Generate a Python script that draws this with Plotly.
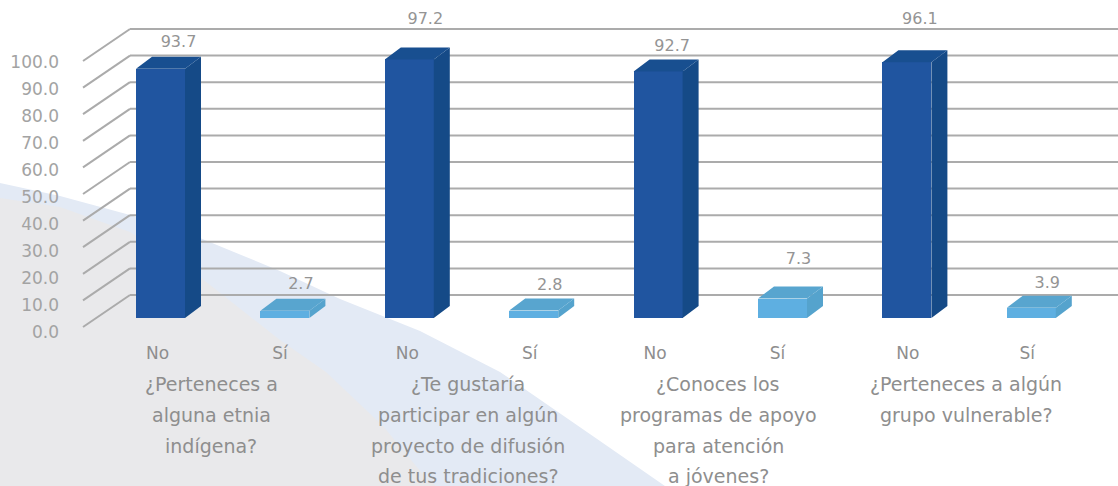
import plotly.graph_objects as go

# ---- data ----
answers = ["No", "Sí", "No", "Sí", "No", "Sí", "No", "Sí"]
values = [93.7, 2.7, 97.2, 2.8, 92.7, 7.3, 96.1, 3.9]
y_ticks = [0, 10, 20, 30, 40, 50, 60, 70, 80, 90, 100]
questions = [
    ["¿Perteneces a", "alguna etnia", "indígena?"],
    ["¿Te gustaría", "participar en algún", "proyecto de difusión", "de tus tradiciones?"],
    ["¿Conoces los", "programas de apoyo", "para atención", "a jóvenes?"],
    ["¿Perteneces a algún", "grupo vulnerable?"],
]

# ---- layout constants (pixels of the 1118x486 page) ----
W, H = 1118, 486
ML = 60
X0_PX, X_STEP = 160.5, 124.4      # centre of first bar, spacing between bars
Y0_PX, Y_UNIT = 327.0, 2.66       # y=0 on the front plane, px per value unit
FONT = "DejaVu Sans, sans-serif"

def ux(px):
    return (px - X0_PX) / X_STEP

def uy(px):
    return (Y0_PX - px) / Y_UNIT

def paper_x(px):
    return (px - ML) / (W - ML)

def paper_y(px):
    return 1 - px / H

x_range = [ux(ML), ux(W)]
y_range = [uy(H), uy(0)]

BAR_W = 49 / X_STEP
BAR_BASE = 9 / Y_UNIT
BAR_DX, BAR_DY = 16 / X_STEP, 12 / Y_UNIT
GRID_X0, GRID_X1 = ux(83), ux(130)
GRID_DY = 32 / Y_UNIT
label_lift_px = [-1, -1, 12, -2, -3, 12, 15, -3]
label_nudge_px = [2, 0, 0, 0, -2, 0, -3, 0]
tick_nudge_px = [-3, -5, -2, -4, -3, -5, 1, -4]
question_centre_px = [211, 468, 718, 966]
question_line_px = [384, 415, 446, 476]

DARK = dict(front="#2055a0", side="#154a87", top="#184f90")
LIGHT = dict(front="#5eafe1", side="#55a3cd", top="#58a5cf")
palette = [DARK if a == "No" else LIGHT for a in answers]
positions = list(range(len(values)))

fig = go.Figure()


def band(points, color):
    d = "M" + " L".join(f"{paper_x(a):.4f},{paper_y(b):.4f}" for a, b in points) + " Z"
    return dict(type="path", xref="paper", yref="paper", path=d, layer="below",
                fillcolor=color, line=dict(width=0))


shapes = [
    band([(0, 183), (60, 196), (130, 215), (200, 238), (280, 271), (340, 299), (420, 331),
          (500, 372), (600, 441), (665, 486), (0, 486)], "#e3eaf5"),
    band([(0, 198), (60, 207), (130, 232), (200, 277), (280, 340), (326, 372), (383, 426),
          (421, 472), (436, 486), (0, 486)], "#e9e9eb"),
]

for t in y_ticks:
    grid_line = dict(color="#ababab", width=2)
    shapes.append(dict(type="line", xref="x", yref="y", layer="below", x0=GRID_X0, y0=t,
                       x1=GRID_X1, y1=t + GRID_DY, line=grid_line))
    shapes.append(dict(type="line", xref="x", yref="y", layer="below", x0=GRID_X1, y0=t + GRID_DY,
                       x1=x_range[1], y1=t + GRID_DY, line=grid_line))

fig.add_trace(go.Bar(
    x=positions, y=values, base=[BAR_BASE] * len(values), width=BAR_W,
    marker=dict(color=[p["front"] for p in palette], line=dict(width=0)),
    showlegend=False, hoverinfo="skip",
))

for tone in (DARK, LIGHT):
    for face in ("side", "top"):
        xs, ys = [], []
        for c, v, p in zip(positions, values, palette):
            if p is not tone:
                continue
            top = BAR_BASE + v
            l, r = c - BAR_W / 2, c + BAR_W / 2
            if face == "side":
                xs += [r, r + BAR_DX, r + BAR_DX, r, r, None]
                ys += [BAR_BASE, BAR_BASE + BAR_DY, top + BAR_DY, top, BAR_BASE, None]
            else:
                xs += [l, r, r + BAR_DX, l + BAR_DX, l, None]
                ys += [top, top, top + BAR_DY, top + BAR_DY, top, None]
        fig.add_trace(go.Scatter(x=xs, y=ys, mode="lines", fill="toself", fillcolor=tone[face],
                                 line=dict(width=0), showlegend=False, hoverinfo="skip"))

fig.add_trace(go.Scatter(
    x=[c + BAR_DX + n / X_STEP for c, n in zip(positions, label_nudge_px)],
    y=[BAR_BASE + v + BAR_DY + (15 + l) / Y_UNIT for v, l in zip(values, label_lift_px)],
    mode="text", text=[f"{v:.1f}" for v in values],
    textposition="middle center",
    textfont=dict(family=FONT, size=16, color="#949494"),
    showlegend=False, hoverinfo="skip",
))

annotations = []
for centre, lines in zip(question_centre_px, questions):
    for line, y_px in zip(lines, question_line_px):
        annotations.append(dict(
            xref="paper", yref="paper", x=paper_x(centre), y=paper_y(y_px),
            xanchor="center", yanchor="middle", text=line, showarrow=False,
            font=dict(family=FONT, size=19, color="#8e8e8e"),
        ))

fig.update_layout(
    width=W, height=H, autosize=False,
    margin=dict(l=ML, r=0, t=0, b=0, pad=0),
    paper_bgcolor="#ffffff", plot_bgcolor="rgba(0,0,0,0)",
    shapes=shapes, annotations=annotations, bargap=0, showlegend=False,
    xaxis=dict(
        range=x_range, anchor="free", position=paper_y(341),
        tickmode="array",
        tickvals=[c + n / X_STEP for c, n in zip(positions, tick_nudge_px)],
        ticktext=answers, ticks="", ticklen=0, showline=False, showgrid=False, zeroline=False,
        tickfont=dict(family=FONT, size=17, color="#8e8e8e"), tickangle=0,
    ),
    yaxis=dict(
        range=y_range, tickmode="array",
        tickvals=[t - (1.5 + 4 * (100 - t) / 100) / Y_UNIT for t in y_ticks],
        ticktext=[f"{t:.1f}" for t in y_ticks],
        ticks="", showline=False, showgrid=False, zeroline=False,
        tickfont=dict(family=FONT, size=17, color="#a3a3a3"),
    ),
)

fig.write_html("out.html", config=dict(displayModeBar=False),
               post_script="document.body.style.margin='0';")
